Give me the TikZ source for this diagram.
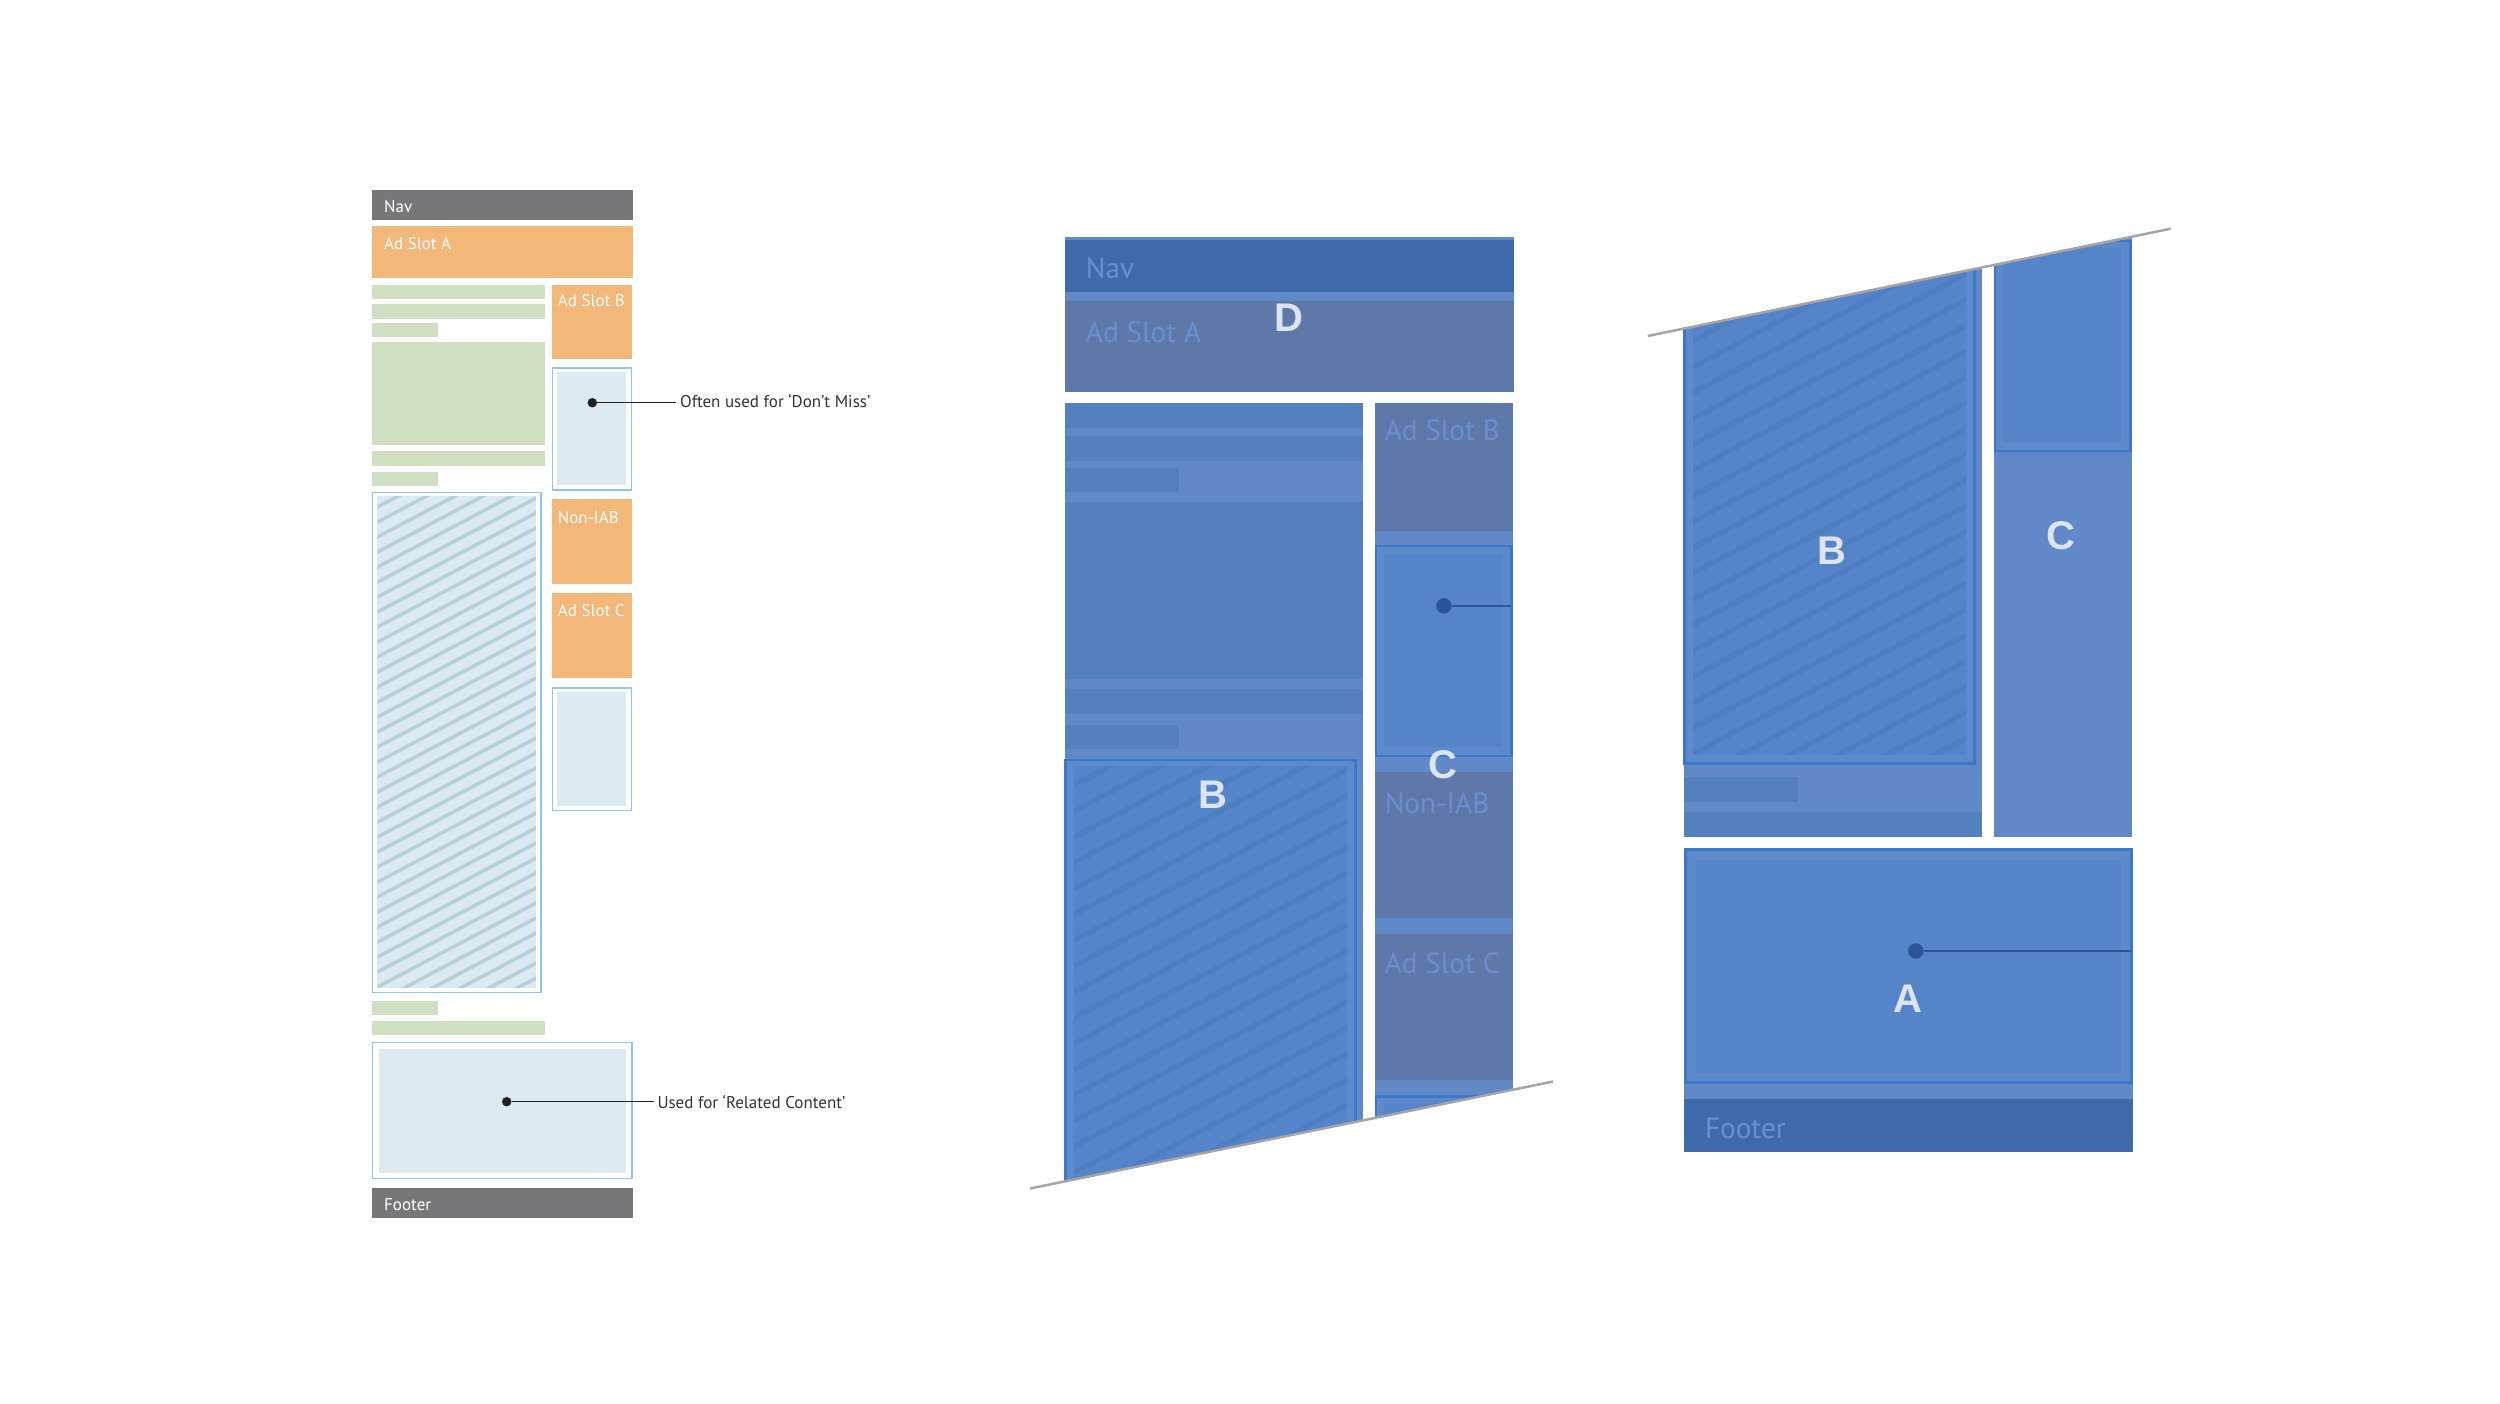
\documentclass[tikz,border=0pt]{standalone}
\usepackage{fontspec}
\setmainfont{PT Sans}
\newfontfamily\letterfont{Liberation Sans}
\usetikzlibrary{calc}
\definecolor{lgray}{HTML}{77777A}
\definecolor{lorange}{HTML}{F4B77A}
\definecolor{lgreen}{HTML}{D0DFC2}
\definecolor{lborder}{HTML}{8EC5F0}
\definecolor{linner}{HTML}{DDE9F0}
\definecolor{lhatch}{HTML}{B6CFD8}
\definecolor{ldot}{HTML}{222222}
\definecolor{notegray}{HTML}{333333}
\definecolor{bbase}{HTML}{6189C8}
\definecolor{bbar}{HTML}{5481BD}
\definecolor{bslot}{HTML}{5E78AA}
\definecolor{bnav}{HTML}{3E6AAB}
\definecolor{binner}{HTML}{5585C8}
\definecolor{bgap}{HTML}{5C8ACB}
\definecolor{bborder}{HTML}{3D77C8}
\definecolor{bhatch}{HTML}{4F7FC2}
\definecolor{btext}{HTML}{6A8FD0}
\definecolor{bletter}{HTML}{DCE4F0}
\definecolor{bdot}{HTML}{2B5597}
\definecolor{slantgray}{HTML}{A5A5A5}

\tikzset{
  lbl/.style={anchor=base west, inner sep=0pt, font=\fontsize{17}{20}\selectfont},
  annot/.style={anchor=base west, inner sep=0pt, text=notegray, font=\fontsize{17}{20}\selectfont},
  bigletter/.style={inner sep=0pt, text=bletter, font=\letterfont\bfseries\fontsize{40}{44}\selectfont},
  slantline/.style={draw=slantgray, line width=2.5pt},
  leftpal/.style={
    pbase/.style={},
    pbar/.style={fill=lgreen},
    pslot/.style={fill=lorange},
    pnav/.style={fill=lgray},
    pborder/.style={draw=lborder, line width=1.5pt, fill=white},
    pinner/.style={fill=linner},
    phatch/.style={draw=lhatch, line width=3.5pt},
    plabel/.style={lbl, text=white},
    pdot/.style={circle, fill=ldot, inner sep=0pt, minimum size=9.5pt},
    pconn/.style={draw=ldot, line width=1.3pt}
  },
  bluepal/.style={
    pbase/.style={fill=bbase},
    pbar/.style={fill=bbar},
    pslot/.style={fill=bslot},
    pnav/.style={fill=bnav},
    pborder/.style={draw=bborder, line width=1.5pt, fill=bgap},
    pinner/.style={fill=binner},
    phatch/.style={draw=bhatch, line width=3pt},
    plabel/.style={lbl, text=btext},
    pdot/.style={circle, fill=bdot, inner sep=0pt, minimum size=9pt},
    pconn/.style={draw=bdot, line width=1.5pt}
  }
}

\newcommand\TopBlock[1]{%
  \path[pbase] (372,188.5) rectangle (633,278.3);
  \path[pnav] (372,190) rectangle (633,220);
  \node[plabel] (#1navt) at (384,212.3) {Nav};
  \path[pslot] (372,225.7) rectangle (633,278.3);
  \node[plabel] (#1slotat) at (384,249.3) {Ad Slot A};}

\newcommand\HatchBox{%
  \path[pborder] (372.4,492.4) rectangle (541,992.6);
  \path[pinner] (377.3,496) rectangle (536,987.7);
  \begin{scope}
    \clip (377.3,496) rectangle (536,987.7);
    \foreach \k in {0,...,44} \draw[phatch] (370,{496+15*\k}) -- (545,{403.25+15*\k});
  \end{scope}}

\newcommand\LeftCol{%
  \path[pbase] (372,285) rectangle (545.3,1035.3);
  \path[pbar] (372,285) rectangle (545.3,299.3);
  \path[pbar] (372,304) rectangle (545.3,318.7);
  \path[pbar] (372,322.7) rectangle (438,336.7);
  \path[pbar] (372,342.3) rectangle (545.3,445);
  \path[pbar] (372,451) rectangle (545.3,465.7);
  \path[pbar] (372,471.7) rectangle (438,486);
  \HatchBox
  \path[pbar] (372,1000.7) rectangle (438,1015);
  \path[pbar] (372,1020.7) rectangle (545.3,1035.3);}

\newcommand\DMBox{%
  \path[pborder] (552.7,368) rectangle (631.5,490);
  \path[pinner] (557.3,372.3) rectangle (626,485);}

\newcommand\RightCol[1]{%
  \path[pbase] (552,285) rectangle (632.3,811);
  \path[pslot] (552,285) rectangle (632.3,359.3);
  \node[plabel] (#1slotbt) at (557.7,306.7) {Ad Slot B};
  \DMBox
  \path[pslot] (552,499.3) rectangle (632.3,584);
  \node[plabel] (#1nonit) at (557.7,523.3) {Non-IAB};
  \path[pslot] (552,593.3) rectangle (632.3,678.3);
  \node[plabel] (#1slotct) at (557.7,616.7) {Ad Slot C};
  \path[pborder] (552.7,688) rectangle (631.5,810.3);
  \path[pinner] (557.3,692) rectangle (626,805.7);}

\newcommand\BottomBlock[1]{%
  \path[pbase] (372,1042) rectangle (633,1218.3);
  \path[pborder] (372.7,1042.7) rectangle (632,1178.3);
  \path[pinner] (379,1048.7) rectangle (626,1172.7);
  \path[pnav] (372,1187.7) rectangle (633,1218.3);
  \node[plabel] (#1foott) at (384,1210.7) {Footer};}

\begin{document}
\begin{tikzpicture}[x=1pt,y=-1pt]
\useasboundingbox[fill=white] (0,0) rectangle (2500,1403);

% ---------- left: wireframe ----------
\begin{scope}[leftpal]
  \TopBlock{l}
  \LeftCol
  \RightCol{l}
  \BottomBlock{l}
  \node[pdot] (ldmdot) at (592.3,402.7) {};
  \node[annot] (ldmnote) at (680,407.3) {Often used for ‘Don’t Miss’};
  \coordinate (ldmend) at ($(ldmdot -| ldmnote.west)+(-4,0)$);
  \draw[pconn] (ldmdot) -- (ldmend);
  \node[pdot] (lrcdot) at (506.7,1101.7) {};
  \node[annot] (lrcnote) at (657.3,1108.3) {Used for ‘Related Content’};
  \coordinate (lrcend) at ($(lrcdot -| lrcnote.west)+(-3.5,0)$);
  \draw[pconn] (lrcdot) -- (lrcend);
\end{scope}

% ---------- middle: blue enlarged, cut by slanted line ----------
\begin{scope}
  \clip (1000,100) -- (1600,100) -- (1600,1071.9) -- (1000,1194.6) -- cycle;
  \begin{scope}[transform canvas={cm={1.72,0,0,1.72,(425.16pt,86.8pt)}}, bluepal]
    \TopBlock{m}
    \LeftCol
    \RightCol{m}
    \node[pdot] (mdmdot) at (592.3,402.7) {};
    \coordinate (mdmend) at (631.5,402.7);
    \draw[pconn] (mdmdot) -- (mdmend);
  \end{scope}
\end{scope}

% ---------- right: rearranged blocks ----------
\begin{scope}
  \clip (1600,345.8) -- (2200,222.7) -- (2200,1300) -- (1600,1300) -- cycle;
  \begin{scope}[transform canvas={cm={1.72,0,0,1.72,(1044.16pt,943.94pt)}}, bluepal]
    \LeftCol
    \BottomBlock{r}
    \node[pdot] (rrcdot) at (506.7,1101.7) {};
    \coordinate (rrcend) at (632,1101.7);
    \draw[pconn] (rrcdot) -- (rrcend);
  \end{scope}
  \path[fill=bbase] (1993.6,200) rectangle (2131.7,837.3);
  \begin{scope}[transform canvas={cm={1.72,0,0,1.72,(1044.16pt,392pt)}}, bluepal]
    \DMBox
  \end{scope}
\end{scope}

% ---------- letters ----------
\node[bigletter] (mD) at (1289,318) {D};
\node[bigletter] (mC) at (1443,765) {C};
\node[bigletter] (mB) at (1213,795) {B};
\node[bigletter] (rB) at (1832,551) {B};
\node[bigletter] (rC) at (2061,536) {C};
\node[bigletter] (rA) at (1908,999) {A};

% ---------- slanted cut lines ----------
\coordinate (ms1) at (1030,1188.5);
\coordinate (ms2) at (1553,1081.5);
\draw[slantline] (ms1) -- (ms2);
\coordinate (rs1) at (1647.7,336);
\coordinate (rs2) at (2170.7,228.7);
\draw[slantline] (rs1) -- (rs2);
\end{tikzpicture}
\end{document}
